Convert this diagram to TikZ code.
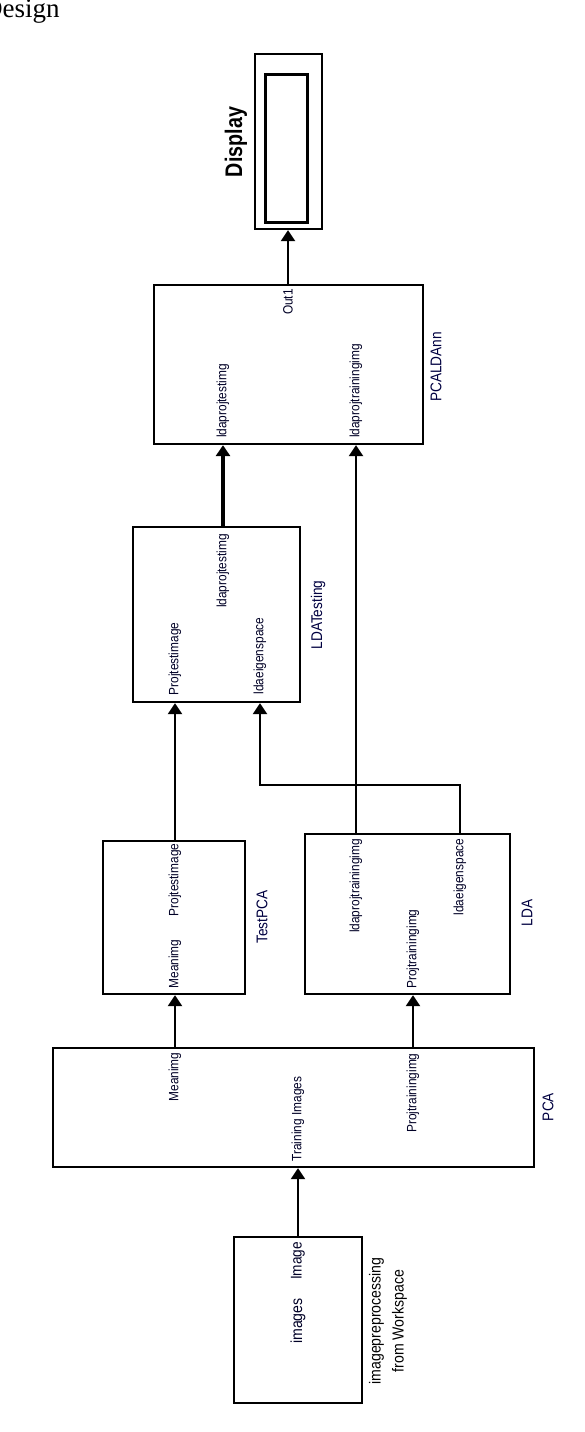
\documentclass[tikz,border=0pt]{standalone}
\usepackage{fontspec}
\setmainfont{Liberation Sans}
\newfontfamily\serifdesign{Liberation Serif}
\newfontfamily\narrowsans{Liberation Sans}[FakeStretch=0.88]
\usetikzlibrary{arrows.meta,calc}
\tikzset{
  blk/.style={draw, line width=2.3pt, inner sep=0pt, fill=white},
  port/.style={rotate=90, inner sep=0pt, font=\narrowsans\fontsize{13.5}{13.5}\selectfont, text=black!85!blue},
  bname/.style={rotate=90, inner sep=0pt, font=\narrowsans\fontsize{15.5}{15.5}\selectfont, text=black!75!blue},
  arr/.style={line width=2.5pt, -{Triangle[width=14pt,length=11pt]}},
}
\newcommand{\blkat}[5]{% name, x1,y1,x2,y2
  \node[blk, minimum width={#4-#2}, minimum height={#5-#3}] (#1) at ({(#2+#4)/2},{-(#3+#5)/2}) {};}
\begin{document}
\begin{tikzpicture}[x=1pt,y=1pt]
\useasboundingbox (0,0) rectangle (584,-1432);
% title fragment
\node[anchor=base west, inner sep=0pt, font=\serifdesign\fontsize{27}{27}\selectfont] (title) at (-17,-17) {Design};

% blocks
\blkat{dispO}{255}{54}{322}{229}
\node[draw, line width=3pt, inner sep=0pt, minimum width=42pt, minimum height=148pt] (dispI) at (286,-148) {};
\node[rotate=90, inner sep=0pt, font=\bfseries\fontsize{24}{24}\selectfont] (dispLbl) at (236,-142) {\scalebox{0.82}[1]{Display}};

\blkat{ann}{154}{285}{423}{444}
\blkat{lt}{133}{527}{300}{702}
\blkat{tp}{103}{841}{245}{994}
\blkat{lda}{305}{834}{510}{994}
\blkat{pca}{53}{1048}{534}{1167}
\blkat{ip}{234}{1237}{362}{1403}

% PCALDAnn labels
\node[port] (annOut) at (288,-302) {Out1};
\node[port] (annTest) at (223,-401) {ldaprojtestimg};
\node[port] (annTrain) at (356,-391) {ldaprojtrainingimg};
\node[bname] (annName) at (436,-367) {PCALDAnn};

% LDATesting labels
\node[port] (ltOut) at (223,-571) {ldaprojtestimg};
\node[port] (ltProj) at (175,-659) {Projtestimage};
\node[port] (ltEig) at (260,-656) {ldaeigenspace};
\node[bname] (ltName) at (318,-615) {LDATesting};

% TestPCA labels
\node[port] (tpProj) at (175,-880) {Projtestimage};
\node[port] (tpMean) at (175,-964) {Meanimg};
\node[bname] (tpName) at (262,-917) {TestPCA};

% LDA labels
\node[port] (ldaTrain) at (356,-886) {ldaprojtrainingimg};
\node[port] (ldaEig) at (460,-877) {ldaeigenspace};
\node[port] (ldaProj) at (413,-949) {Projtrainingimg};
\node[bname] (ldaName) at (527,-913) {LDA};

% PCA labels
\node[port] (pcaMean) at (175,-1077) {Meanimg};
\node[port] (pcaIn) at (298,-1119) {Training Images};
\node[port] (pcaProj) at (413,-1093) {Projtrainingimg};
\node[bname] (pcaName) at (548,-1107) {PCA};

% image preprocessing labels
\node[port, font=\narrowsans\fontsize{15.5}{15.5}\selectfont] (ipOut) at (298,-1261) {Image};
\node[port, font=\narrowsans\fontsize{16}{16}\selectfont] (ipImgs) at (298,-1321) {images};
\node[rotate=90, inner sep=0pt, align=center, font=\narrowsans\fontsize{16}{23}\selectfont] (ipName) at (388,-1321) {imagepreprocessing\\from Workspace};

% connectors
\coordinate (eigbend) at (460,-785);
\draw[arr] (ipOut |- ip.north) -- (pcaIn |- pca.south);
\draw[arr] (pcaMean |- pca.north) -- (tpMean |- tp.south);
\draw[arr] (pcaProj |- pca.north) -- (ldaProj |- lda.south);
\draw[arr] (tpProj |- tp.north) -- (ltProj |- lt.south);
\draw[arr] (ldaEig |- lda.north) -- (ldaEig |- eigbend) -| (ltEig |- lt.south);
\draw[arr] (ldaTrain |- lda.north) -- (annTrain |- ann.south);
\draw[arr, line width=3.5pt] (ltOut |- lt.north) -- (annTest |- ann.south);
\draw[arr] (annOut |- ann.north) -- (annOut |- dispO.south);
\end{tikzpicture}
\end{document}
